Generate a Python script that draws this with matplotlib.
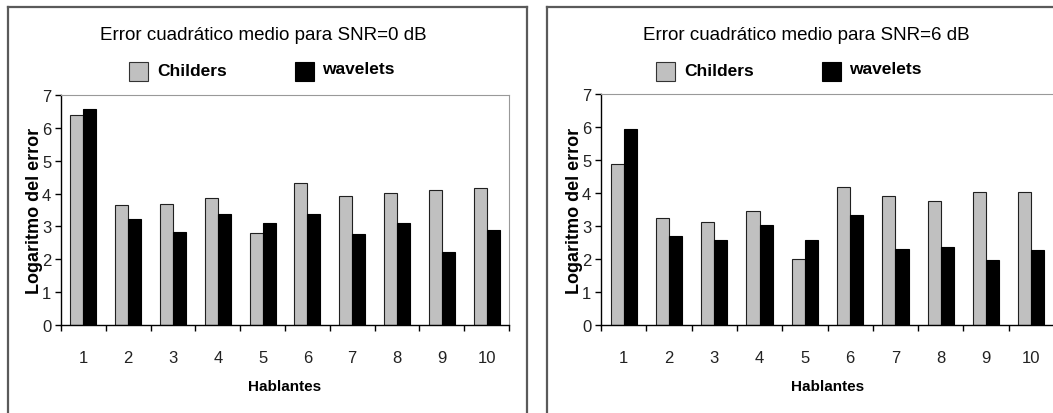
import matplotlib
matplotlib.use('Agg')
from matplotlib import pyplot as plt
from matplotlib.lines import Line2D
from matplotlib.patches import Rectangle
import numpy as np

# Datos
hablantes = ['1', '2', '3', '4', '5', '6', '7', '8', '9', '10']
childers_0db = [6.38, 3.64, 3.69, 3.86, 2.79, 4.33, 3.94, 4.03, 4.11, 4.16]
wavelets_0db = [6.56, 3.22, 2.84, 3.39, 3.09, 3.39, 2.76, 3.09, 2.23, 2.89]
childers_6db = [4.88, 3.24, 3.11, 3.45, 2.00, 4.18, 3.92, 3.76, 4.02, 4.02]
wavelets_6db = [5.94, 2.70, 2.57, 3.03, 2.57, 3.33, 2.31, 2.35, 1.97, 2.27]

FONT = 'Liberation Sans'

W, H = 1053, 414
fig = plt.figure(figsize=(W / 100, H / 100), dpi=100)


def px_rect(x0, y0, x1, y1):
    '''pixel box (top-left origin) to figure fraction'''
    return [x0 / W, 1 - y1 / H, (x1 - x0) / W, (y1 - y0) / H]


def frame(x0, x1):
    # marco exterior abierto por abajo
    for xs, ys in [([x0, x0], [8, H + 5]), ([x0, x1], [8, 8]), ([x1, x1], [8, H + 5])]:
        fig.add_artist(Line2D([x / W for x in xs], [1 - y / H for y in ys],
                              color='#5a5a5a', lw=1.6, transform=fig.transFigure))


def panel(rect, childers, wavelets, snr, title_x, leg_x):
    ax = fig.add_axes(rect)
    x = np.arange(len(hablantes))
    w = 0.29
    ax.bar(x - w / 2, childers, w, color='#c0c0c0', edgecolor='#202020', lw=0.8)
    ax.bar(x + w / 2, wavelets, w, color='black', edgecolor='black', lw=0.8)
    ax.set_xlim(-0.5, len(hablantes) - 0.5)
    ax.set_ylim(0, 7)
    ax.set_yticks(range(8))
    # marcas entre categorias, etiquetas centradas
    ax.set_xticks(np.arange(len(hablantes) + 1) - 0.5)
    ax.set_xticklabels([])
    ax.set_xticks(x, minor=True)
    ax.set_xticklabels(hablantes, minor=True, family=FONT, fontsize=12, color='#222222')
    ax.tick_params(axis='x', which='minor', length=0, pad=18)
    ax.tick_params(axis='x', which='major', length=4, width=1)
    ax.tick_params(axis='y', length=4, width=1, pad=3)
    for lab in ax.get_yticklabels():
        lab.set_family(FONT)
        lab.set_fontsize(12)
        lab.set_color('#222222')
    ax.spines['top'].set_color('#999999')
    ax.spines['right'].set_color('#999999')
    ax.spines['left'].set_linewidth(1)
    ax.spines['bottom'].set_linewidth(1)
    ax.set_ylabel('Logaritmo del error', family=FONT, fontweight='bold',
                  fontsize=13, labelpad=-1)
    ax.set_xlabel('Hablantes', family=FONT, fontweight='bold', fontsize=11, labelpad=10)

    fig.text(title_x / W, 1 - 35 / H, 'Error cuadrático medio para SNR=%d dB' % snr,
             family=FONT, fontsize=13.5, ha='center', va='center')
    # leyenda
    fig.add_artist(Rectangle((leg_x / W, 1 - 82 / H), 19 / W, 19 / H, facecolor='#c0c0c0',
                             edgecolor='#333333', lw=0.8, transform=fig.transFigure))
    fig.text((leg_x + 28) / W, 1 - 72 / H, 'Childers', family=FONT,
             fontweight='bold', fontsize=12.5, ha='left', va='center')
    fig.add_artist(Rectangle(((leg_x + 166) / W, 1 - 82 / H), 19 / W, 19 / H,
                             facecolor='black', edgecolor='black', lw=0.8,
                             transform=fig.transFigure))
    fig.text((leg_x + 193) / W, 1 - 70 / H, 'wavelets', family=FONT,
             fontweight='bold', fontsize=12.5, ha='left', va='center')
    return ax


frame(7.5, 527)
frame(547, W + 10)
panel(px_rect(61, 96, 509, 326), childers_0db, wavelets_0db, 0, 263, 129)
panel(px_rect(601, 95, 1054, 326), childers_6db, wavelets_6db, 6, 806, 656)

fig.savefig('out.png', dpi=100, facecolor='white')
